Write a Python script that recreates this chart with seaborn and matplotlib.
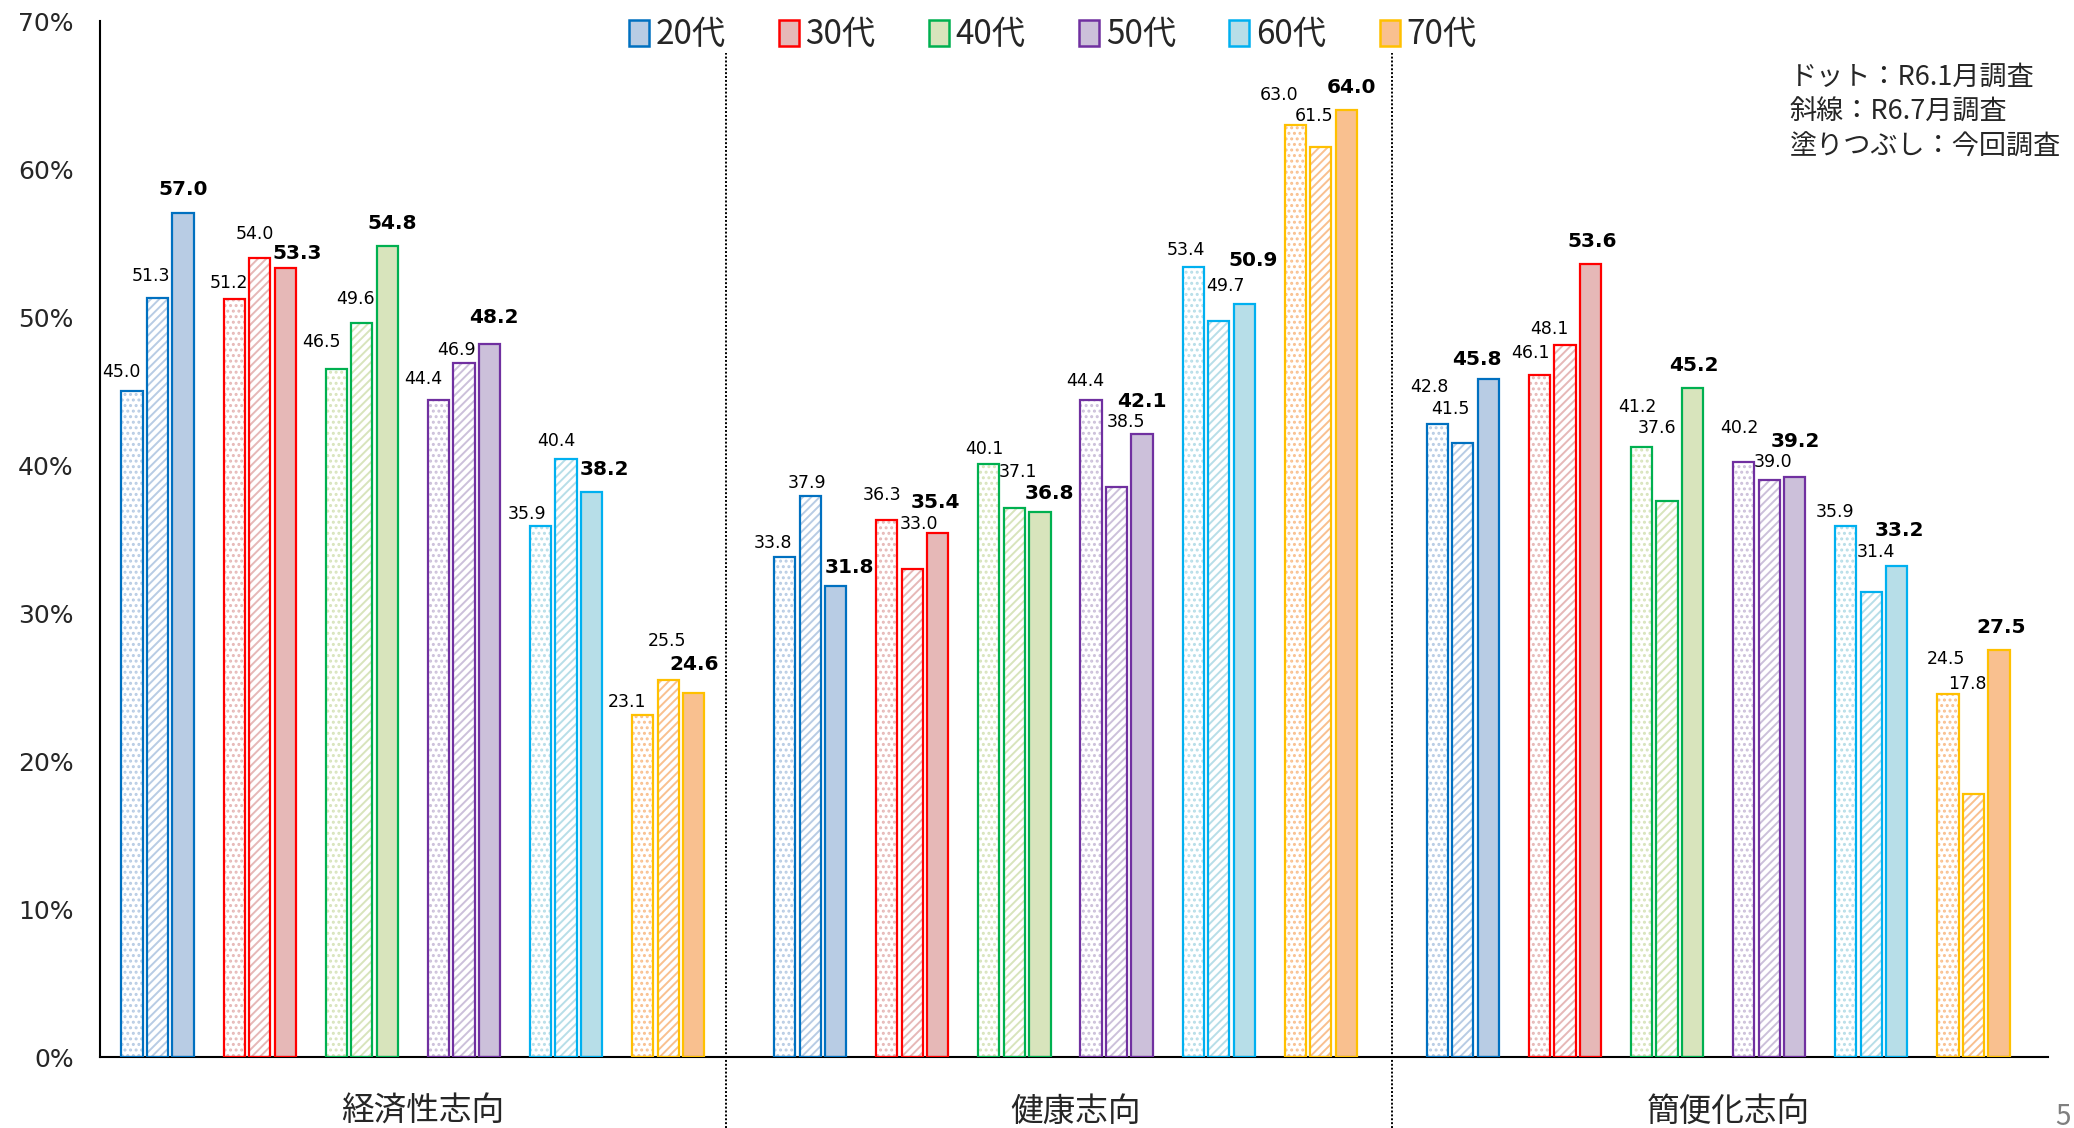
import pandas as pd
import seaborn as sns
import matplotlib.pyplot as plt
from matplotlib.patches import Patch

# 3 survey waves per age group: R6.1 (dots), R6.7 (hatch), current (filled)
categories = ["経済性志向", "健康志向", "簡便化志向"]
ages = ["20代", "30代", "40代", "50代", "60代", "70代"]
surveys = ["R6.1", "R6.7", "今回"]

econ = [[45.0, 51.3, 57.0], [51.2, 54.0, 53.3], [46.5, 49.6, 54.8],
        [44.4, 46.9, 48.2], [35.9, 40.4, 38.2], [23.1, 25.5, 24.6]]
health = [[33.8, 37.9, 31.8], [36.3, 33.0, 35.4], [40.1, 37.1, 36.8],
          [44.4, 38.5, 42.1], [53.4, 49.7, 50.9], [63.0, 61.5, 64.0]]
conv = [[42.8, 41.5, 45.8], [46.1, 48.1, 53.6], [41.2, 37.6, 45.2],
        [40.2, 39.0, 39.2], [35.9, 31.4, 33.2], [24.5, 17.8, 27.5]]
values = [econ, health, conv]

# where the value labels sit (height in %, horizontal nudge in px)
label_y = [
    [[46.3, 52.8, 58.6], [52.3, 55.6, 54.3], [48.3, 51.2, 56.3],
     [45.8, 47.8, 50.0], [36.7, 41.6, 39.7], [24.0, 28.1, 26.5]],
    [[34.7, 38.8, 33.1], [38.0, 36.0, 37.5], [41.1, 39.5, 38.1],
     [45.7, 42.9, 44.3], [54.5, 52.1, 53.8], [65.0, 63.6, 65.5]],
    [[45.3, 43.8, 47.1], [47.6, 49.2, 55.1], [43.9, 42.5, 46.7],
     [42.5, 40.2, 41.6], [36.8, 34.1, 35.6], [26.9, 25.2, 29.0]],
]
label_dx = [
    [[-11, -7, 0], [-5, -5, 12], [-15, -6, 5], [-15, -7, 4], [-14, -10, 13], [-16, -1, 0]],
    [[-12, -3, 14], [-5, 7, -2], [-5, 4, 9], [-6, 9, 0], [-7, 7, 9], [-16, -7, 5]],
    [[-8, -12, -11], [-9, -16, 2], [-4, -10, 1], [-4, 4, 1], [-11, 5, 3], [-2, -6, 2]],
]

edge_colors = ["#0070C0", "#FF0000", "#00B050", "#7030A0", "#00B0F0", "#FFC000"]
fill_colors = ["#B8CCE4", "#E6B8B7", "#D8E4BC", "#CCC0DA", "#B7DEE8", "#F9C08F"]
hatches = ["...", "////", None]

GROUP_STEP = 6.39
BAR_STEP = 0.25
PX_PER_UNIT = 102.1

rows = []
for g in range(len(categories)):
    for i in range(len(ages)):
        for s in range(len(surveys)):
            rows.append(dict(g=g, i=i, s=s,
                             pos=g * GROUP_STEP + i + (s - 1) * BAR_STEP,
                             value=values[g][i][s],
                             label_y=label_y[g][i][s],
                             dx=label_dx[g][i][s]))
df = pd.DataFrame(rows)

sns.set_theme(style="white")
plt.rcParams["font.family"] = ["DejaVu Sans", "Noto Sans CJK JP"]
plt.rcParams["hatch.linewidth"] = 1.4
JP = ["Noto Sans CJK JP", "DejaVu Sans"]

fig = plt.figure(figsize=(20.74, 11.28), dpi=100)
ax = fig.add_axes([0.04822, 0.06294, 0.93925, 0.91844])

sns.barplot(data=df, x="pos", y="value", native_scale=True, orient="x",
            width=0.83, errorbar=None, color="white", ax=ax, zorder=2)

bar_w = ax.patches[0].get_width()
for p in ax.patches:
    cx = p.get_x() + p.get_width() / 2
    r = df.iloc[(df["pos"] - cx).abs().argmin()]
    fc = fill_colors[int(r["i"])]
    h = hatches[int(r["s"])]
    if h is None:
        p.set_facecolor(fc)
        p.set_edgecolor(fc)
    else:
        p.set_facecolor("white")
        p.set_edgecolor(fc)
        p.set_hatch(h)
    p.set_linewidth(0)

# outlines on top of the hatch
ax.bar(df["pos"], df["value"], width=bar_w, fill=False,
       edgecolor=[edge_colors[i] for i in df["i"]], linewidth=1.6, zorder=3)

for _, r in df.iterrows():
    bold = r["s"] == 2
    ax.text(r["pos"] + r["dx"] / PX_PER_UNIT, r["label_y"], f"{r['value']:.1f}",
            ha="center", va="center", fontsize=14.5 if bold else 12.5,
            fontweight="bold" if bold else "normal", color="black", zorder=4)

ax.set_xlim(-0.563, 2 * GROUP_STEP + 5 + 0.73)
ax.set_ylim(0, 70)
ax.set_yticks(range(0, 71, 10))
ax.set_yticklabels([f"{t}%" for t in range(0, 71, 10)], fontsize=18)
ax.set_xticks([g * GROUP_STEP + 2.6 for g in range(len(categories))])
ax.set_xticklabels(categories, fontsize=23.5, family=JP)
ax.tick_params(axis="x", length=0, pad=28)
ax.tick_params(axis="y", length=0, pad=19)
ax.set_xlabel("")
ax.set_ylabel("")

for side in ["top", "right"]:
    ax.spines[side].set_visible(False)
for side in ["left", "bottom"]:
    ax.spines[side].set_color("black")
    ax.spines[side].set_linewidth(1.5)

# dotted separators between the three categories
ax.vlines([5.568, 12.086], -0.0685, 0.969, transform=ax.get_xaxis_transform(),
          colors="black", linestyles=(0, (1, 1)), linewidth=1.4, clip_on=False)

handles = [Patch(facecolor=f, edgecolor=e, linewidth=1.8)
           for f, e in zip(fill_colors, edge_colors)]
fig.legend(handles, ages, loc="center", bbox_to_anchor=(0.5075, 0.969), ncol=6,
           frameon=False, prop={"family": JP, "size": 24},
           handlelength=0.6, handleheight=0.8, handletextpad=0.2, columnspacing=1.6)

notes = ["ドット：R6.1月調査", "斜線：R6.7月調査", "塗りつぶし：今回調査"]
for k, t in enumerate(notes):
    fig.text(0.863, 1 - (77 + 35 * k) / 1128, t, ha="left", va="center",
             fontsize=19.5, family=JP)

fig.text(2071 / 2074, 1 - 1117 / 1128, "5", ha="right", va="center",
         fontsize=20, color="#7f7f7f", family=JP)

fig.savefig("out.png", dpi=100)
